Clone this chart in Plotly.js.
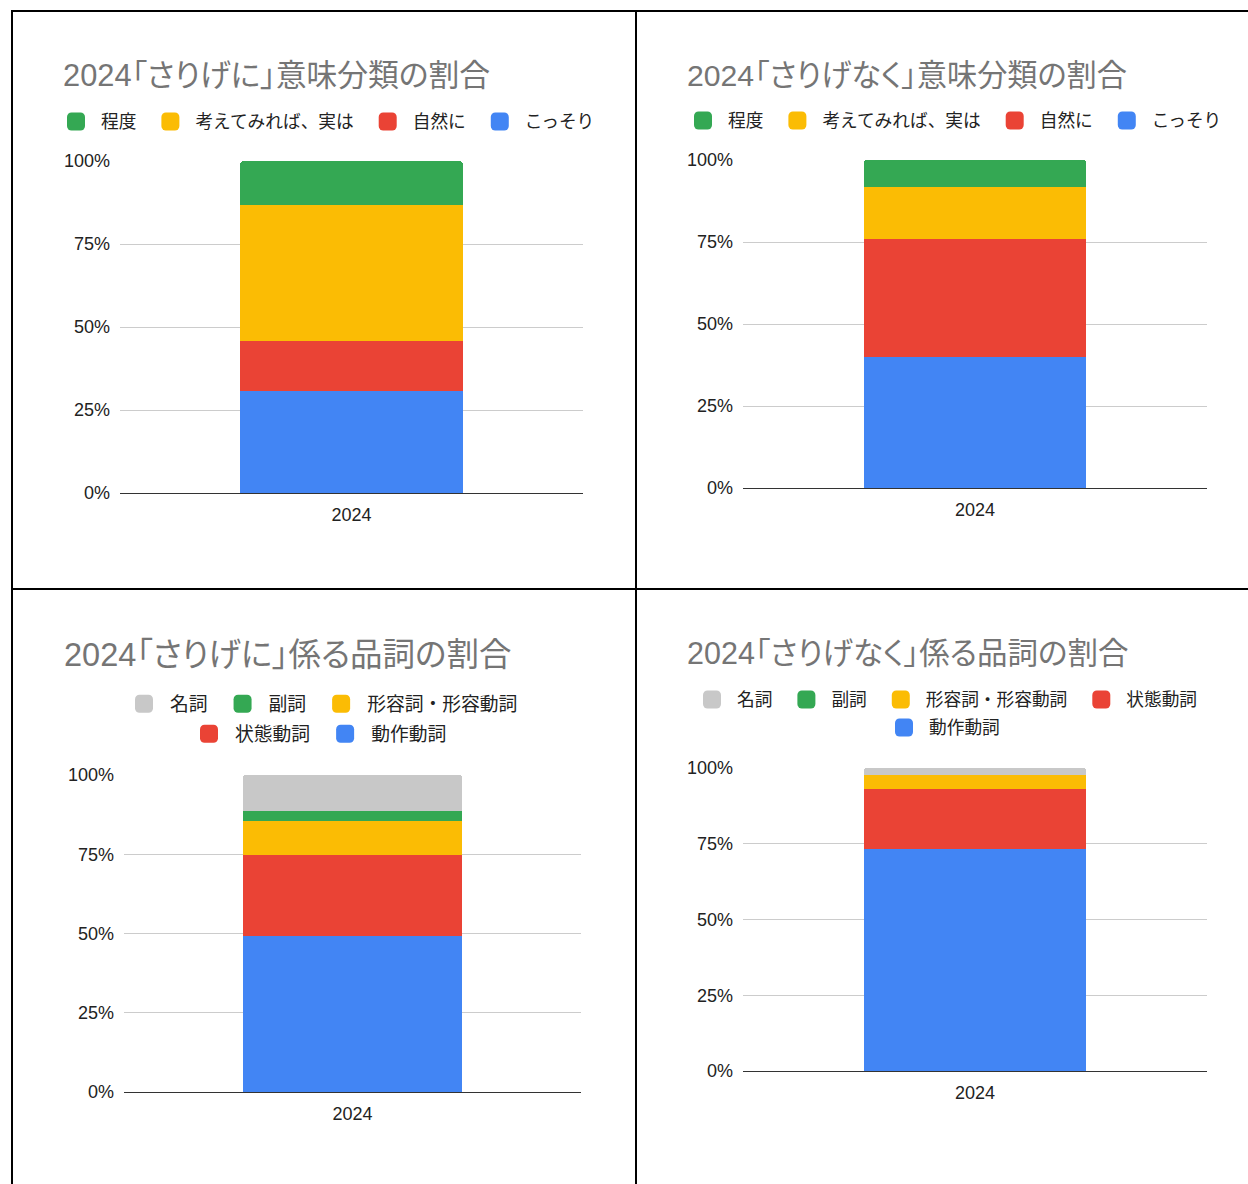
<!DOCTYPE html>
<html><head><meta charset="utf-8">
<script src="https://cdn.plot.ly/plotly-3.0.1.min.js"></script>
<style>
body{margin:0;background:#fff;width:1248px;height:1184px;overflow:hidden;position:relative;}
.p{position:absolute;}
.ln{position:absolute;background:#000;}
</style></head><body>
<div class="ln" style="left:11px;top:10px;width:1237px;height:2px"></div>
<div class="ln" style="left:11px;top:10px;width:2px;height:1174px"></div>
<div class="ln" style="left:635px;top:10px;width:2px;height:1174px"></div>
<div class="ln" style="left:11px;top:588px;width:1237px;height:2px"></div>
<div id="p1" class="p" style="left:13px;top:12px;width:622px;height:576px"></div>
<div id="p2" class="p" style="left:637px;top:12px;width:611px;height:576px"></div>
<div id="p3" class="p" style="left:13px;top:590px;width:622px;height:594px"></div>
<div id="p4" class="p" style="left:637px;top:590px;width:611px;height:594px"></div>
<script>
// ---- data ----
const categories = ['2024'];
const meaningNames = ['こっそり', '自然に', '考えてみれば、実は', '程度'];
const meaningColors = ['#4285F4', '#EA4335', '#FBBC04', '#34A853'];
const sarigeniMeaning = [30.7, 15.1, 40.9, 13.3];
const sarigenakuMeaning = [40.0, 36.0, 15.9, 8.1];
const posNames = ['動作動詞', '状態動詞', '形容詞・形容動詞', '副詞', '名詞'];
const posColors = ['#4285F4', '#EA4335', '#FBBC04', '#34A853', '#C8C8C8'];
const sarigeniPos = [49.2, 25.6, 10.7, 3.2, 11.3];
const sarigenakuPos = [73.3, 19.7, 4.6, 0, 2.4];
const yTickVals = [0, 25, 50, 75, 100];
const yTickText = ['0%', '25%', '50%', '75%', '100%'];
const titles = [
  '2024「さりげに」意味分類の割合',
  '2024「さりげなく」意味分類の割合',
  '2024「さりげに」係る品詞の割合',
  '2024「さりげなく」係る品詞の割合'
];

// ---- layout ----
const FONT = "'Liberation Sans', 'Noto Sans CJK JP', sans-serif";
const PALT = (s) => '<span style="font-feature-settings:\'palt\'">' + s + '</span>';
const panels = [
  {id:'p1', title:titles[0], names:meaningNames, colors:meaningColors, values:sarigeniMeaning,
   w:622, h:576, l:107, r:52, t:149, b:95, tx:50, ty:63, split:0, tsize:30.8, lsize:17.7, iw:44,
   leg:[{x:34, y:110}]},
  {id:'p2', title:titles[1], names:meaningNames, colors:meaningColors, values:sarigenakuMeaning,
   w:611, h:576, l:106, r:41, t:148, b:100, tx:50, ty:63, split:0, tsize:30.2, lsize:17.7, iw:44,
   leg:[{x:37, y:109}]},
  {id:'p3', title:titles[2], names:posNames, colors:posColors, values:sarigeniPos,
   w:622, h:594, l:111, r:54, t:185, b:92, tx:51, ty:65, split:2, tsize:32.5, lsize:18.8, iw:46,
   leg:[{x:101, y:114}, {x:166, y:144}]},
  {id:'p4', title:titles[3], names:posNames, colors:posColors, values:sarigenakuPos,
   w:611, h:594, l:106, r:41, t:178, b:113, tx:50, ty:63, split:1, tsize:30.5, lsize:17.7, iw:44,
   leg:[{x:46, y:110}, {x:238, y:138}]}
];

panels.forEach(P => {
  const plotW = P.w - P.l - P.r, plotH = P.h - P.t - P.b;
  const traces = P.names.map((n, i) => ({
    type:'bar', name:n, x:categories, y:[P.values[i]],
    marker:{color:P.colors[i], line:{width:0}},
    legend: (i < P.split) ? 'legend2' : 'legend',
    hoverinfo:'skip'
  }));
  const mkLeg = (L) => ({
    orientation:'h', xref:'paper', yref:'paper',
    x:(L.x - P.l) / plotW, xanchor:'left', y:(P.h - P.b - L.y) / plotH, yanchor:'middle',
    traceorder:'reversed', itemwidth:P.iw, bgcolor:'rgba(0,0,0,0)',
    font:{family:FONT, size:P.lsize, color:'#222'}
  });
  const layout = {
    width:P.w, height:P.h,
    margin:{l:P.l, r:P.r, t:P.t, b:P.b, pad:0, autoexpand:false},
    paper_bgcolor:'#fff', plot_bgcolor:'#fff',
    barmode:'stack', bargap:0.52, barcornerradius:3,
    font:{family:FONT, size:18, color:'#222'},
    title:{text:PALT(P.title), x:P.tx / P.w, xref:'container', xanchor:'left',
           y:1 - P.ty / P.h, yref:'container', yanchor:'middle',
           font:{family:FONT, size:P.tsize, color:'#757575'}},
    showlegend:true,
    legend:mkLeg(P.leg[0]),
    xaxis:{type:'category', showgrid:false, zeroline:false, showline:false, ticks:'',
           ticklabelstandoff:9, tickfont:{family:FONT, size:18, color:'#222'}},
    yaxis:{range:[0, 100], tickvals:yTickVals, ticktext:yTickText, showgrid:true,
           gridcolor:'#cccccc', gridwidth:1, zeroline:true, zerolinecolor:'#333333', zerolinewidth:1,
           showline:false, ticks:'', ticklabelstandoff:9,
           tickfont:{family:FONT, size:18, color:'#222'}}
  };
  if (P.leg[1]) layout.legend2 = mkLeg(P.leg[1]);
  Plotly.newPlot(P.id, traces, layout, {displayModeBar:false, staticPlot:true}).then(gd => {
    gd.querySelectorAll('.legendpoints path').forEach(p => {
      const t = p.getAttribute('transform') || '';
      if (!/scale/.test(t)) p.setAttribute('transform', t + ' translate(2,0) scale(1.5)');
    });
  });
});
</script>
</body></html>
